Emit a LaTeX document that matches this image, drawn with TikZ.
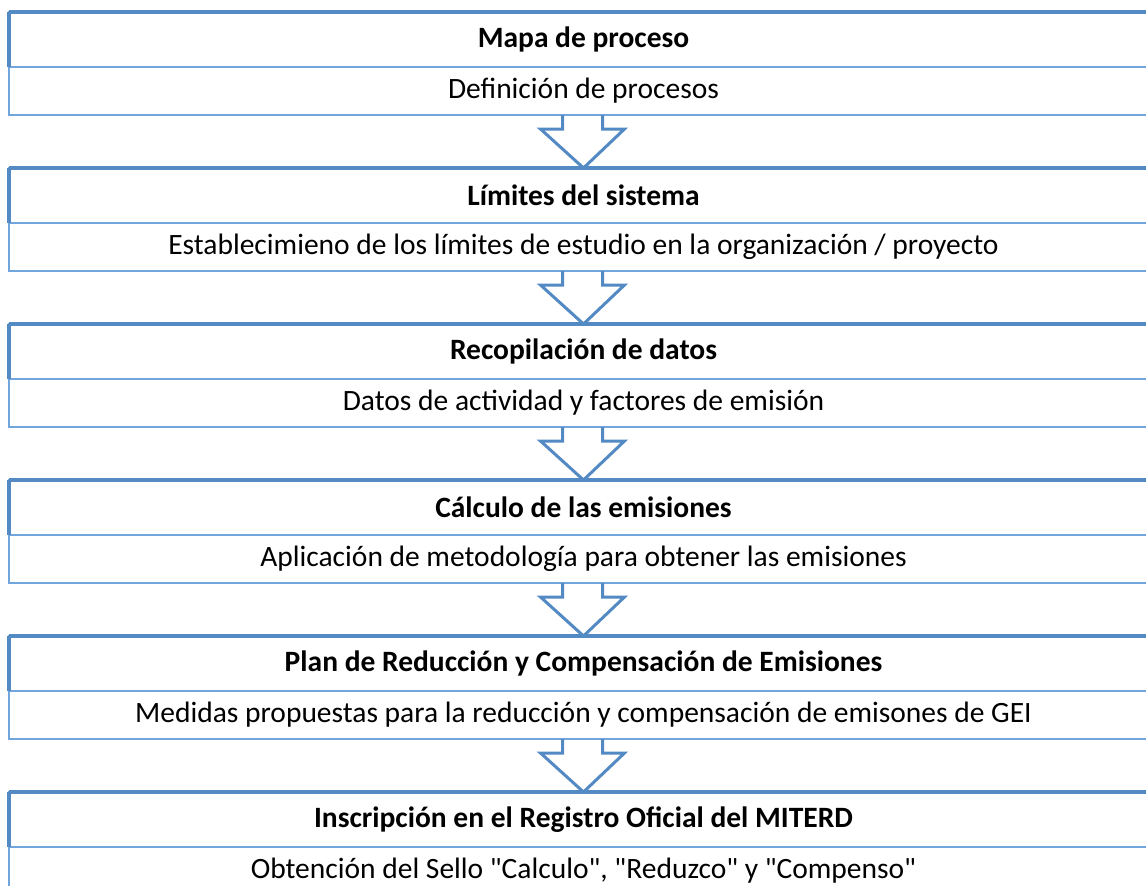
\documentclass[tikz,border=0pt]{standalone}
\usepackage{fontspec}
\setmainfont{Carlito}[Ligatures=TeXOff]
\usetikzlibrary{positioning,calc}
\definecolor{frameblue}{RGB}{84,138,196}
\definecolor{lineblue}{RGB}{112,166,220}
\begin{document}
\begin{tikzpicture}[x=1pt,y=-1pt]
\tikzstyle{ttl}=[draw=lineblue, line width=2.5pt, outer sep=0pt, inner sep=0pt, minimum width=1149pt, minimum height=55pt, font=\fontsize{29.5}{34}\selectfont\bfseries]
\tikzstyle{sub}=[draw=lineblue, line width=2.5pt, outer sep=0pt, inner sep=0pt, minimum width=1149pt, minimum height=48pt, font=\fontsize{29.5}{34}\selectfont]
\tikzstyle{edge}=[frameblue, line width=4pt]
\tikzstyle{blockarrow}=[frameblue, line width=3pt, line join=miter]
\useasboundingbox[fill=white] (0,0) rectangle (1146,886);
\clip (0,0) rectangle (1146,886);
% boxes
\node[ttl] (t1) at (583.5,39.5) {Mapa de proceso};
\node[sub, below=0pt of t1] (s1) {Definición de procesos};
\node[ttl, below=53pt of s1] (t2) {Límites del sistema};
\node[sub, below=0pt of t2] (s2) {Establecimieno de los límites de estudio en la organización / proyecto};
\node[ttl, below=53pt of s2] (t3) {Recopilación de datos};
\node[sub, below=0pt of t3] (s3) {Datos de actividad y factores de emisión};
\node[ttl, below=53pt of s3] (t4) {Cálculo de las emisiones};
\node[sub, below=0pt of t4] (s4) {Aplicación de metodología para obtener las emisiones};
\node[ttl, below=53pt of s4] (t5) {Plan de Reducción y Compensación de Emisiones};
\node[sub, below=0pt of t5] (s5) {Medidas propuestas para la reducción y compensación de emisones de GEI};
\node[ttl, below=53pt of s5] (t6) {Inscripción en el Registro Oficial del MITERD};
\node[sub, below=0pt of t6] (s6) {Obtención del Sello "Calculo", "Reduzco" y "Compenso"};
% darker top and left edges
\draw[edge] (t1.north west) -- (t1.north east);
\draw[edge] (t1.north west) -- (t1.south west);
\draw[edge] (t2.north west) -- (t2.north east);
\draw[edge] (t2.north west) -- (t2.south west);
\draw[edge] (t3.north west) -- (t3.north east);
\draw[edge] (t3.north west) -- (t3.south west);
\draw[edge] (t4.north west) -- (t4.north east);
\draw[edge] (t4.north west) -- (t4.south west);
\draw[edge] (t5.north west) -- (t5.north east);
\draw[edge] (t5.north west) -- (t5.south west);
\draw[edge] (t6.north west) -- (t6.north east);
\draw[edge] (t6.north west) -- (t6.south west);
% block arrows
\draw[blockarrow] ($(s1.south)+(-21,0)$) -- ++(0,14) -- ++(-22,0) -- (t2.north) -- ($(s1.south)+(41,14)$) -- ++(-22,0) -- ++(0,-14);
\draw[blockarrow] ($(s2.south)+(-21,0)$) -- ++(0,14) -- ++(-22,0) -- (t3.north) -- ($(s2.south)+(41,14)$) -- ++(-22,0) -- ++(0,-14);
\draw[blockarrow] ($(s3.south)+(-21,0)$) -- ++(0,14) -- ++(-22,0) -- (t4.north) -- ($(s3.south)+(41,14)$) -- ++(-22,0) -- ++(0,-14);
\draw[blockarrow] ($(s4.south)+(-21,0)$) -- ++(0,14) -- ++(-22,0) -- (t5.north) -- ($(s4.south)+(41,14)$) -- ++(-22,0) -- ++(0,-14);
\draw[blockarrow] ($(s5.south)+(-21,0)$) -- ++(0,14) -- ++(-22,0) -- (t6.north) -- ($(s5.south)+(41,14)$) -- ++(-22,0) -- ++(0,-14);
\end{tikzpicture}
\end{document}
